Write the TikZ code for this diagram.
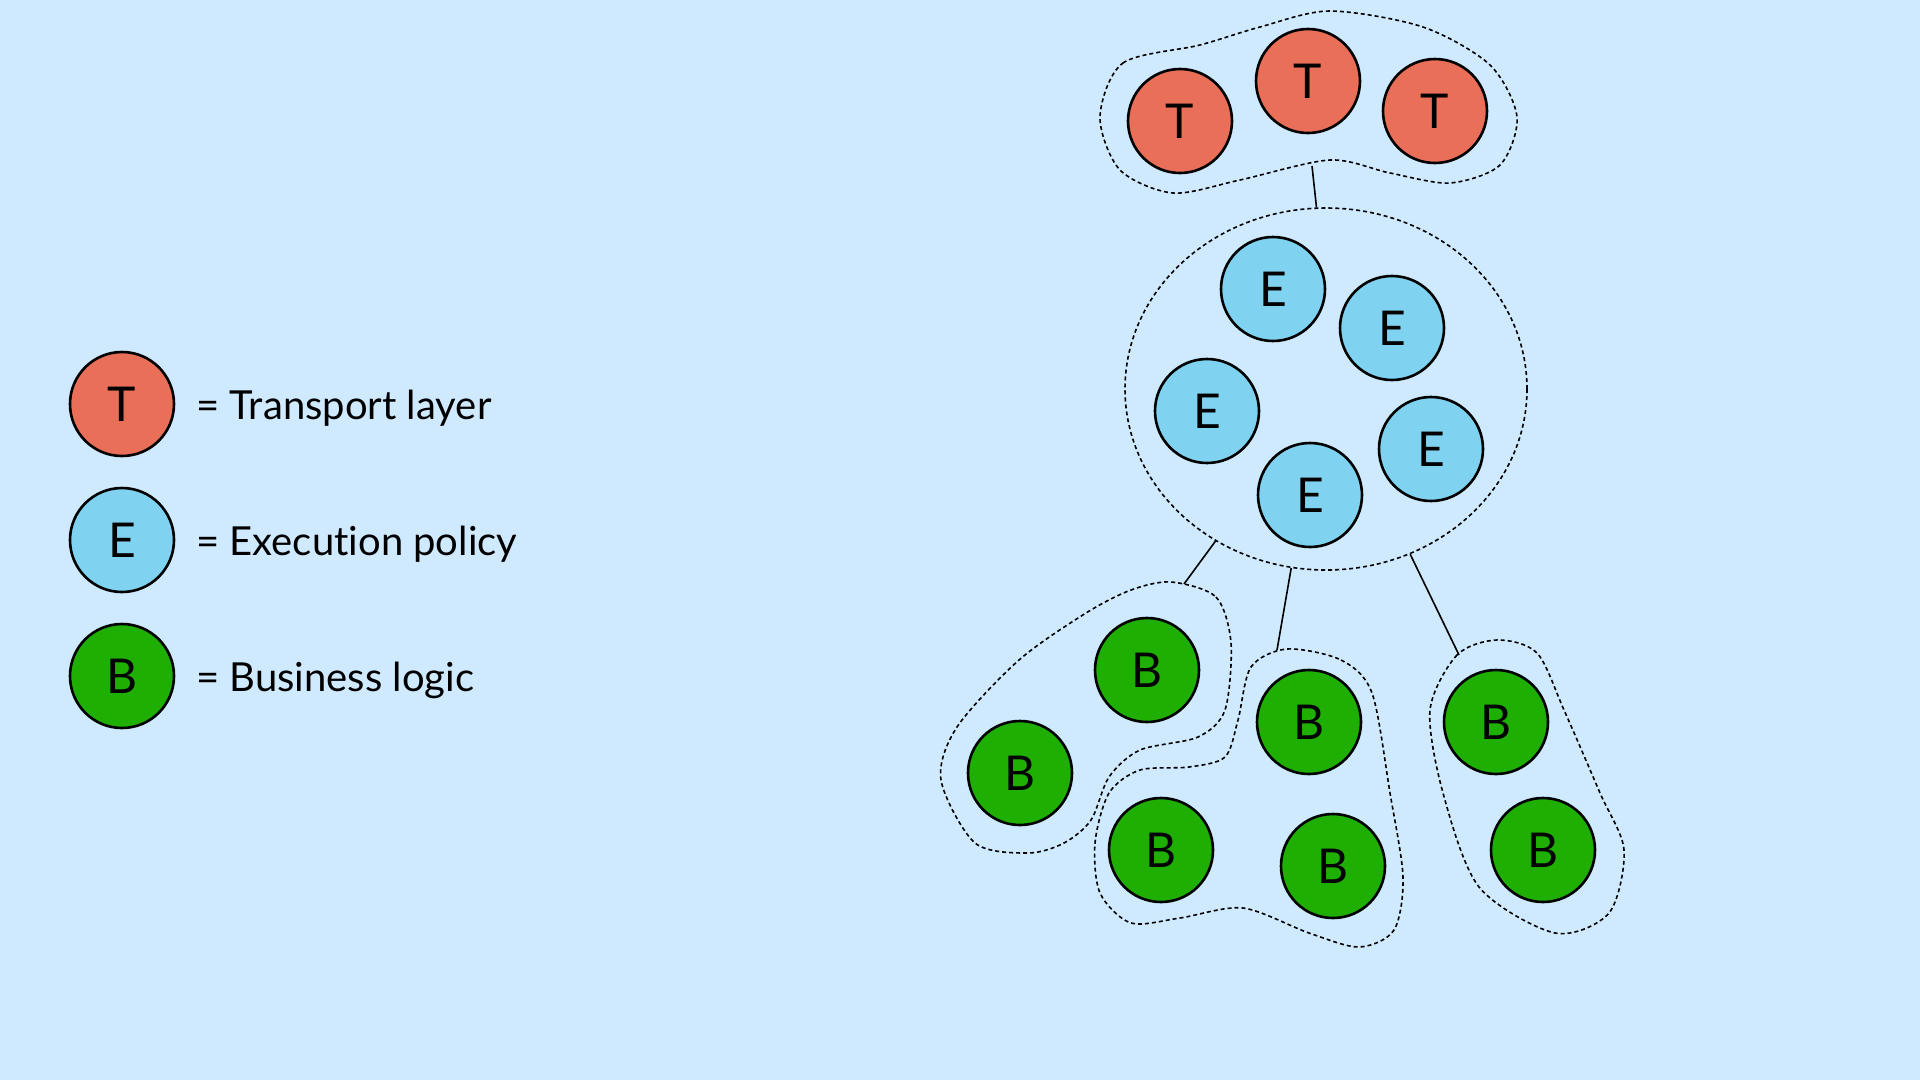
\documentclass[tikz,border=0pt]{standalone}
\usepackage{fontspec}
\setmainfont{Lato}[Ligatures=CommonOff]
\usetikzlibrary{shapes.geometric}
\definecolor{bgblue}{RGB}{207,234,254}
\definecolor{tred}{RGB}{233,111,89}
\definecolor{eblue}{RGB}{127,211,240}
\definecolor{bgreen}{RGB}{31,175,2}
\tikzset{
	ball/.style={circle,draw=black,line width=2.6pt,minimum size=104pt,inner sep=0pt,font=\fontsize{48}{48}\selectfont},
	tball/.style={ball,fill=tred},
	eball/.style={ball,fill=eblue},
	bball/.style={ball,fill=bgreen},
	blob/.style={draw=black,line width=1.6pt,dash pattern=on 4pt off 3pt},
	link/.style={draw=black,line width=1.6pt},
	legtext/.style={anchor=base west,inner sep=0pt,font=\fontsize{40}{40}\selectfont}
}

\begin{document}
\begin{tikzpicture}[x=1pt,y=-1pt]
	\fill[bgblue] (0,0) rectangle (1920,1080);
	\useasboundingbox (0,0) rectangle (1920,1080);
	\begin{scope}
		\node[tball] (lt) at (122,404) {T};
		\node[eball] (le) at (122,540) {E};
		\node[bball] (lb) at (122,676) {B};
		\node[legtext] (ltt) at (196,419) {= Transport layer};
		\node[legtext] (let) at (196,555) {= Execution policy};
		\node[legtext] (lbt) at (196,691) {= Business logic};
	\end{scope}
	\begin{scope}
		\foreach \n/\x/\y in {1/1180/121,2/1308/81,3/1435/111}
			\node[tball] (t\n) at (\x,\y) {T};
		\foreach \n/\x/\y in {1/1273/289,2/1392/328,3/1207/411,4/1431/449,5/1310/495}
			\node[eball] (e\n) at (\x,\y) {E};
		\foreach \n/\x/\y in {1/1147/670,2/1020/773,3/1309/722,4/1161/850,5/1333/866,6/1496/722,7/1543/850}
			\node[bball] (b\n) at (\x,\y) {B};
		\draw[blob] plot[smooth cycle] coordinates {(1100,117) (1123,63) (1200,45) (1260,27) (1330,11) (1423,27) (1490,65) (1517,117) (1500,165) (1450,183) (1390,173) (1330,160) (1240,180) (1173,193) (1120,170)};
		\node[blob,ellipse,minimum width=402pt,minimum height=362pt] (eblob) at (1326,389) {};
		\draw[blob] plot[smooth cycle] coordinates {(1171,582) (1216,597) (1231,643) (1225,710) (1198,737) (1140,750) (1109,777) (1091,820) (1064,843) (1028,853) (975,843) (941,780) (957,727) (1019,660) (1086,613) (1131,590)};
		\draw[blob] plot[smooth cycle] coordinates {(1287,649) (1341,660) (1372,693) (1390,793) (1403,877) (1394,930) (1359,947) (1309,933) (1243,908) (1180,918) (1131,923) (1100,893) (1095,843) (1109,793) (1140,770) (1189,767) (1225,757) (1238,720) (1251,667)};
		\draw[blob] plot[smooth cycle] coordinates {(1497,640) (1457,655) (1430,710) (1443,793) (1479,887) (1555,933) (1609,913) (1624,850) (1600,793) (1564,710) (1537,653)};
		\coordinate (tlink) at (1312,166);
		\coordinate (blink1) at (1184,584);
		\coordinate (blink2) at (1277,650);
		\coordinate (blink3) at (1459,655);
		\draw[link] (tlink) -- (eblob.93.5);
		\draw[link] (eblob.234) -- (blink1);
		\draw[link] (eblob.259) -- (blink2);
		\draw[link] (eblob.297) -- (blink3);
	\end{scope}
\end{tikzpicture}
\end{document}
